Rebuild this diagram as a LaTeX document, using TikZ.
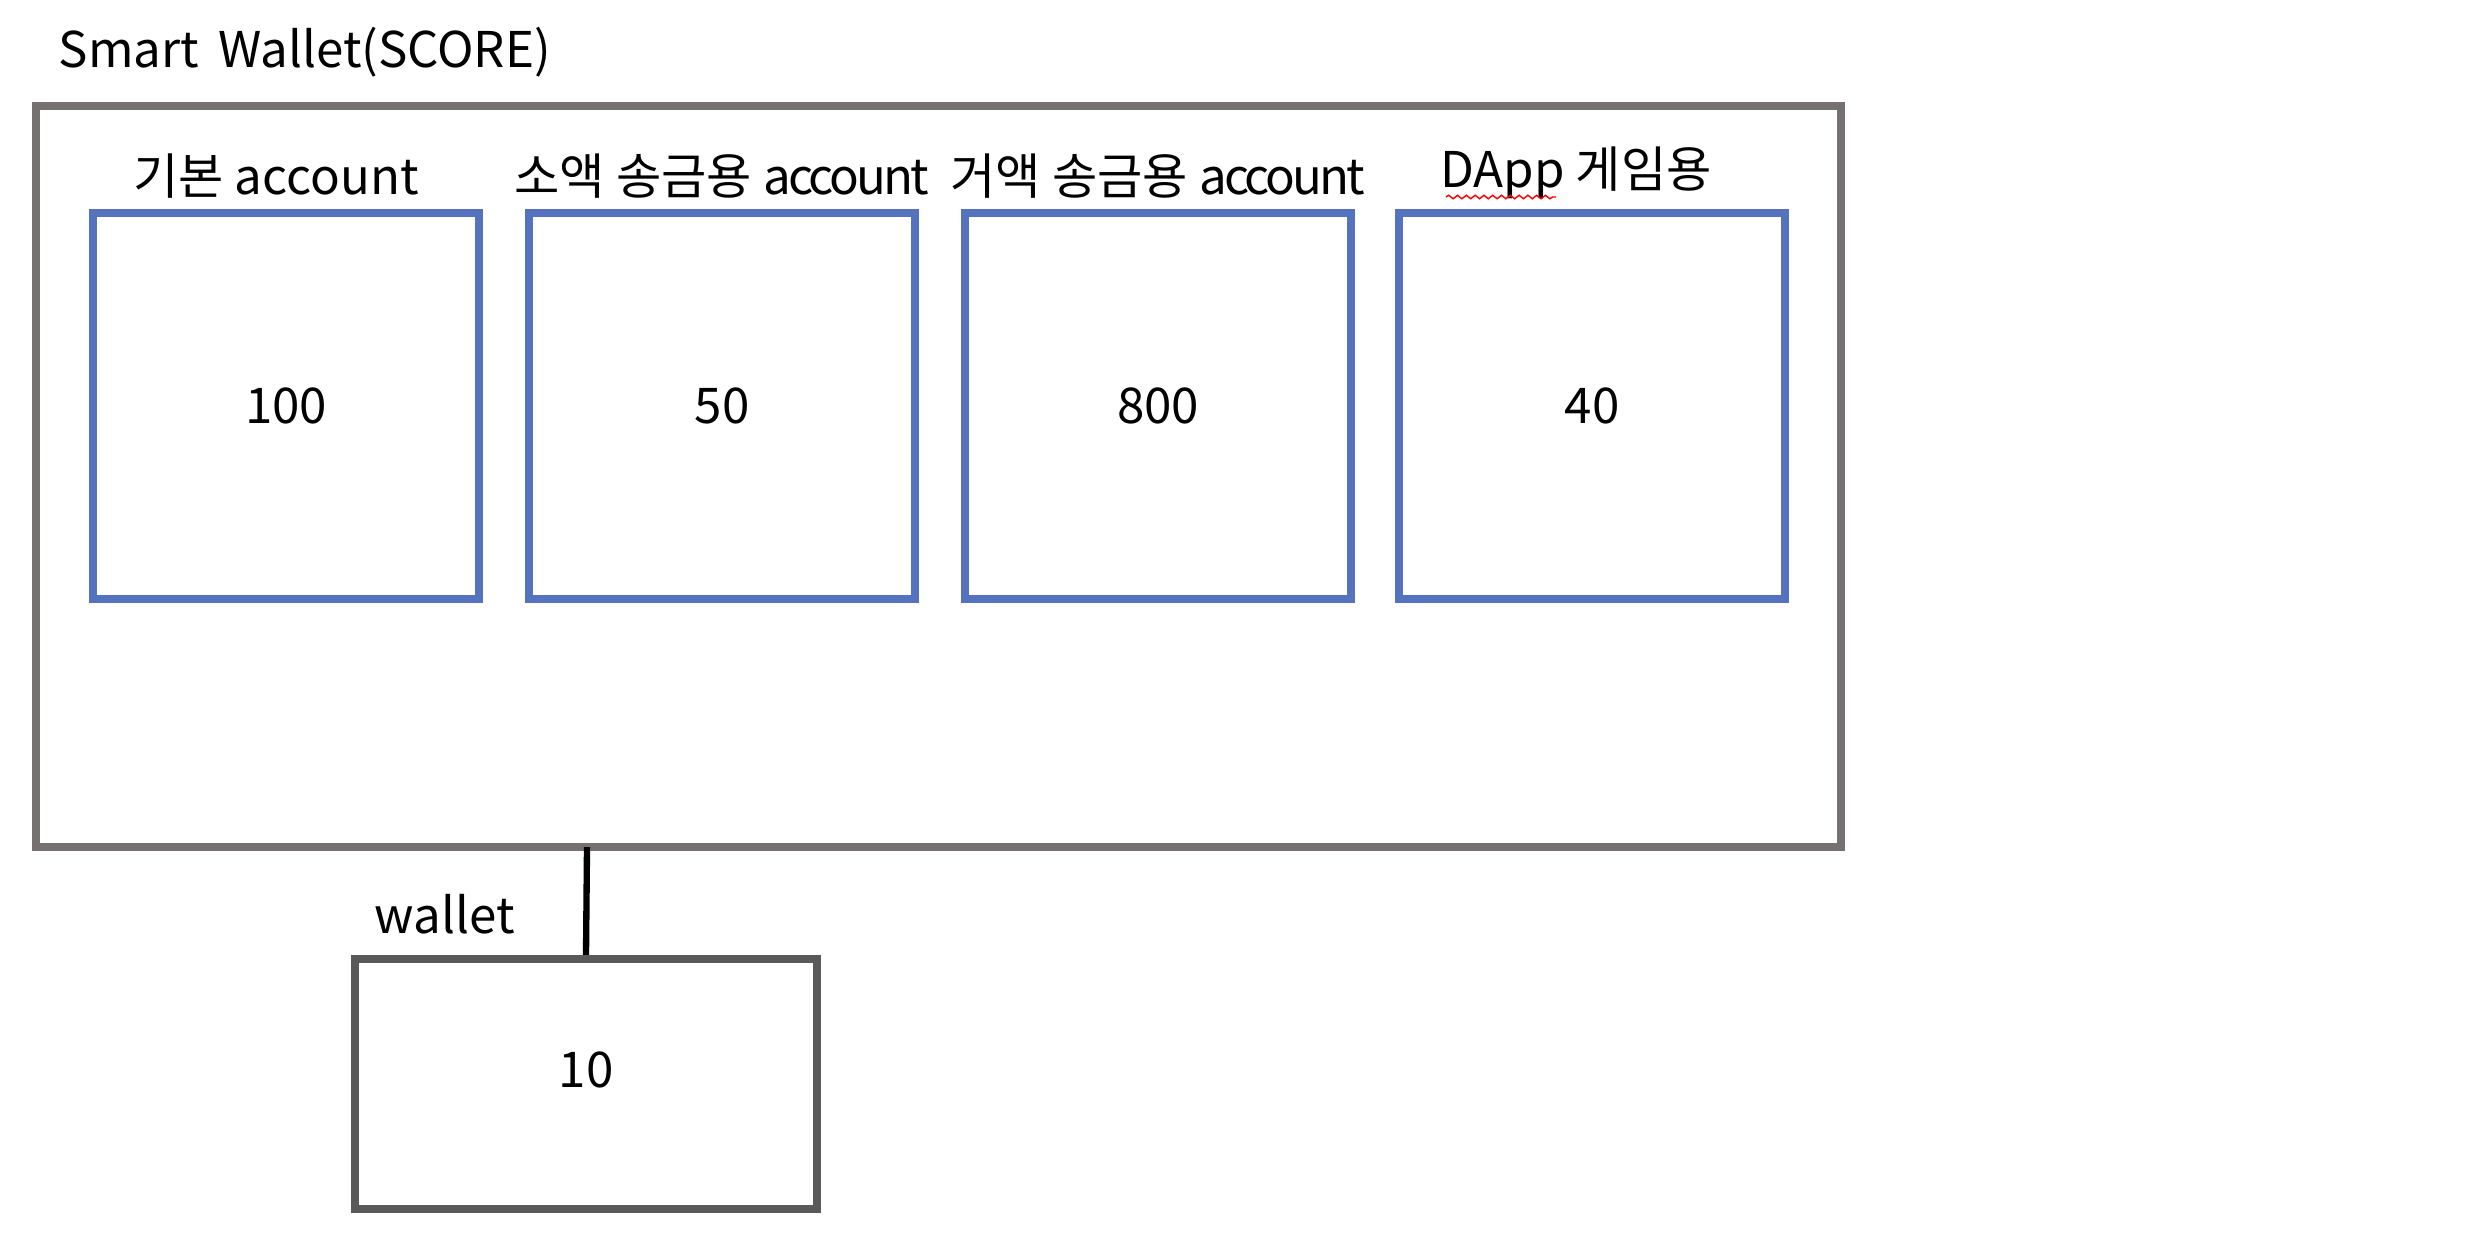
\documentclass[tikz,border=0pt]{standalone}
\usepackage{fontspec}
\setmainfont{Noto Sans CJK KR}
\usetikzlibrary{positioning,decorations.pathmorphing}
\definecolor{scoregray}{RGB}{118,113,113}
\definecolor{walletgray}{RGB}{89,89,89}
\definecolor{acctblue}{RGB}{84,114,190}
\newcommand{\tightacct}{{\addfontfeature{LetterSpace=-6}account}}

\begin{document}
\begin{tikzpicture}[x=0.01cm,y=-0.01cm,
    txt/.style={font=\fontsize{14pt}{16pt}\selectfont,inner sep=0pt},
    acct/.style={txt,draw=acctblue,line width=2.3pt,minimum width=3.85cm,minimum height=3.85cm},
    acctlabel/.style={txt,above=0.1cm},
    scorebox/.style={draw=scoregray,line width=2.3pt},
    walletbox/.style={txt,draw=walletgray,line width=2.3pt,minimum width=4.61cm,minimum height=2.5cm}]
    \useasboundingbox (0,0) rectangle (2482,1256);

    \node[txt,anchor=west] (title) at (58,52) {Smart\, Wallet(SCORE)};
    \draw[scorebox] (36,106) rectangle (1841,847);
    \coordinate (scorebottom) at (587,847);

    \foreach \n/\x/\dx/\lbl/\val in {1/286/-10/기본 account/100, 2/722/0/소액 송금용 \tightacct/50,
                                     3/1158/0/거액 송금용 \tightacct/800, 4/1592/-16/DApp 게임용/40} {
      \node[acct] (acct\n) at (\x,406) {\val};
      \node[acctlabel,xshift=\dx*0.01cm] (lbl\n) at (acct\n.north) {\lbl};
    }

    % spell check mark under DApp
    \coordinate (sqa) at (1446,197);
    \coordinate (sqb) at (1556,197);
    \draw[red,line width=0.4pt,decorate,decoration={snake,amplitude=0.5pt,segment length=2.5pt}] (sqa) -- (sqb);

    \node[walletbox] (wallet) at (586,1084) {};
    \node[txt] (walletval) at (586,1070) {10};
    \node[txt,anchor=south west] (walletlbl) at (374,935) {wallet};
    \draw[line width=1.8pt] (scorebottom) -- (wallet.north);
\end{tikzpicture}
\end{document}
